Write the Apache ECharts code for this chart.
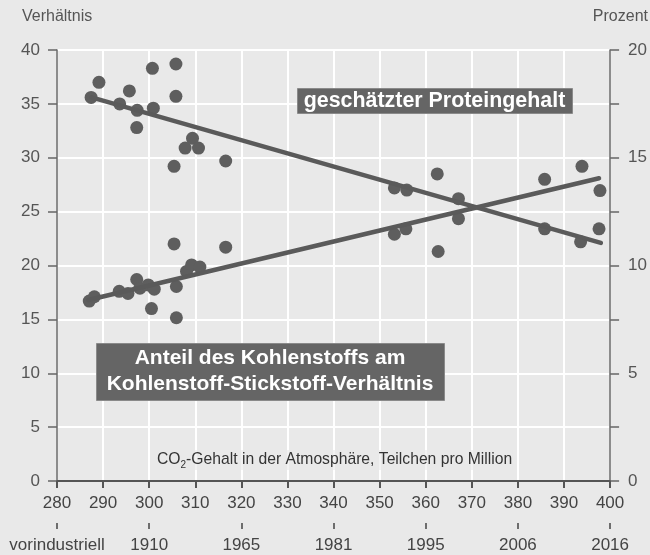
<!DOCTYPE html>
<html>
<head>
<meta charset="utf-8">
<script src="https://cdn.jsdelivr.net/npm/echarts@6/dist/echarts.min.js"></script>
<style>
html,body{margin:0;padding:0;background:#e9e9e9;}
#c{width:650px;height:555px;}
</style>
</head>
<body>
<div id="c"></div>
<script>
// CO2 (ppm) and estimated protein content (%)
const proteinCO2 = [287.4, 289.1, 293.6, 295.7, 297.4, 297.3, 300.7, 300.9, 305.8, 305.8, 305.4, 307.8, 309.4, 310.7, 316.6, 353.2, 355.9, 362.5, 367.1, 385.8, 393.6, 397.6];
const proteinPct = [17.8, 18.5, 17.5, 18.1, 17.2, 16.4, 19.15, 17.3, 19.35, 17.85, 14.6, 15.45, 15.9, 15.45, 14.85, 13.6, 13.5, 14.25, 13.1, 11.7, 11.1, 11.7];
// CO2 (ppm) and carbon share of C:N ratio
const ratioCO2 = [287.0, 288.1, 293.5, 295.4, 297.3, 298.0, 299.8, 301.1, 300.5, 305.4, 305.9, 305.9, 308.1, 309.2, 311.0, 316.6, 353.2, 355.7, 362.7, 367.1, 385.8, 393.9, 397.8];
const ratioVal = [16.7, 17.1, 17.6, 17.4, 18.7, 17.9, 18.2, 17.8, 16.0, 22.0, 18.05, 15.15, 19.45, 20.05, 19.85, 21.7, 22.9, 23.4, 21.3, 24.35, 28.0, 29.2, 26.95];
// trend lines
const proteinTrendCO2 = [287.5, 398];
const proteinTrendPct = [17.8, 11.05];
const ratioTrendCO2 = [286.8, 397.6];
const ratioTrendVal = [16.8, 28.1];
// second tick row: years
const yearTickCO2 = [280, 300, 320, 340, 360, 380, 400];
const yearLabels = ['vorindustriell', '1910', '1965', '1981', '1995', '2006', '2016'];

const FONT = 'Liberation Sans, Arial, sans-serif';
const pairs = (xs, ys) => xs.map((x, i) => [x, ys[i]]);
const yearMap = {};
yearTickCO2.forEach((v, i) => { yearMap[v] = yearLabels[i]; });

const chart = echarts.init(document.getElementById('c'), null, {renderer: 'canvas'});
const gray = '#5e5e5e';
chart.setOption({
  backgroundColor: '#e9e9e9',
  animation: false,
  textStyle: {fontFamily: FONT},
  grid: {left: 57, right: 39, top: 50, bottom: 74, containLabel: false},
  xAxis: [{
    type: 'value', min: 280, max: 400, interval: 10, position: 'bottom',
    axisLine: {show: true, onZero: false, lineStyle: {color: '#555', width: 2}},
    axisTick: {show: true, length: 7, lineStyle: {color: '#555', width: 2}},
    axisLabel: {fontSize: 17, color: '#444', margin: 14, fontFamily: FONT},
    splitLine: {show: true, lineStyle: {color: '#ffffff', width: 2}}
  }, {
    type: 'value', min: 280, max: 400, interval: 20, position: 'bottom', offset: 42,
    axisLine: {show: true, onZero: false, lineStyle: {color: 'rgba(0,0,0,0)', width: 0}},
    axisTick: {show: true, length: 6, lineStyle: {color: '#444', width: 1.5}},
    axisLabel: {fontSize: 17, color: '#444', margin: 14, fontFamily: FONT,
      formatter: v => yearMap[v] || ''},
    splitLine: {show: false}
  }],
  yAxis: [{
    type: 'value', min: 0, max: 40, interval: 5, position: 'left',
    axisLine: {show: true, lineStyle: {color: '#666', width: 1.5}},
    axisTick: {show: true, length: 9, lineStyle: {color: '#666', width: 1.5}},
    axisLabel: {fontSize: 17, color: '#555', margin: 17, fontFamily: FONT},
    splitLine: {show: true, lineStyle: {color: '#ffffff', width: 2}}
  }, {
    type: 'value', min: 0, max: 20, interval: 2.5, position: 'right',
    axisLine: {show: true, lineStyle: {color: '#666', width: 1.5}},
    axisTick: {show: true, length: 9, lineStyle: {color: '#666', width: 1.5}},
    axisLabel: {fontSize: 17, color: '#555', margin: 18, fontFamily: FONT,
      formatter: v => (v % 5 === 0 ? String(v) : '')},
    splitLine: {show: false}
  }],
  series: [{
    type: 'scatter', xAxisIndex: 0, yAxisIndex: 1, data: pairs(proteinCO2, proteinPct),
    symbolSize: 13, itemStyle: {color: gray, opacity: 1}, z: 3
  }, {
    type: 'scatter', xAxisIndex: 0, yAxisIndex: 0, data: pairs(ratioCO2, ratioVal),
    symbolSize: 13, itemStyle: {color: gray, opacity: 1}, z: 3
  }, {
    type: 'line', xAxisIndex: 0, yAxisIndex: 1, data: pairs(proteinTrendCO2, proteinTrendPct),
    symbol: 'none', lineStyle: {color: '#5a5a5a', width: 4.5, cap: 'round'}, z: 4
  }, {
    type: 'line', xAxisIndex: 0, yAxisIndex: 0, data: pairs(ratioTrendCO2, ratioTrendVal),
    symbol: 'none', lineStyle: {color: '#5a5a5a', width: 4.5, cap: 'round'}, z: 4
  }],
  graphic: [
    {type: 'text', left: 22, top: 9, style: {text: 'Verhältnis', fontSize: 16, fill: '#555', fontFamily: FONT}},
    {type: 'text', right: 2, top: 9, style: {text: 'Prozent', fontSize: 16, fill: '#555', fontFamily: FONT}},
    {type: 'rect', left: 297, top: 88, z: 100, shape: {width: 275, height: 25}, style: {fill: '#656565', stroke: '#8a8a8a', lineWidth: 1}},
    {type: 'text', x: 434.5, y: 101, z: 101, style: {text: 'geschätzter Proteingehalt', fontSize: 21.4, fontWeight: 'bold', fill: '#fff', align: 'center', verticalAlign: 'middle', fontFamily: FONT}},
    {type: 'rect', left: 96, top: 343, z: 100, shape: {width: 348, height: 57}, style: {fill: '#656565', stroke: '#8a8a8a', lineWidth: 1}},
    {type: 'text', x: 270, y: 358, z: 101, style: {text: 'Anteil des Kohlenstoffs am', fontSize: 21, fontWeight: 'bold', fill: '#fff', align: 'center', verticalAlign: 'middle', fontFamily: FONT}},
    {type: 'text', x: 270, y: 384, z: 101, style: {text: 'Kohlenstoff-Stickstoff-Verhältnis', fontSize: 21, fontWeight: 'bold', fill: '#fff', align: 'center', verticalAlign: 'middle', fontFamily: FONT}},
    {type: 'text', left: 157, top: 450, z: 100, style: {
      text: '{a|CO}{s|2}{a|-Gehalt in der Atmosphäre, Teilchen pro Million}',
      rich: {
        a: {fontSize: 15.7, fill: '#333', fontFamily: FONT, lineHeight: 20, verticalAlign: 'middle'},
        s: {fontSize: 10, fill: '#333', fontFamily: FONT, lineHeight: 20, verticalAlign: 'bottom', padding: [10, 0, 0, 0]}
      },
      backgroundColor: 'rgba(233,233,233,0.6)'
    }}
  ]
});
</script>
</body>
</html>
